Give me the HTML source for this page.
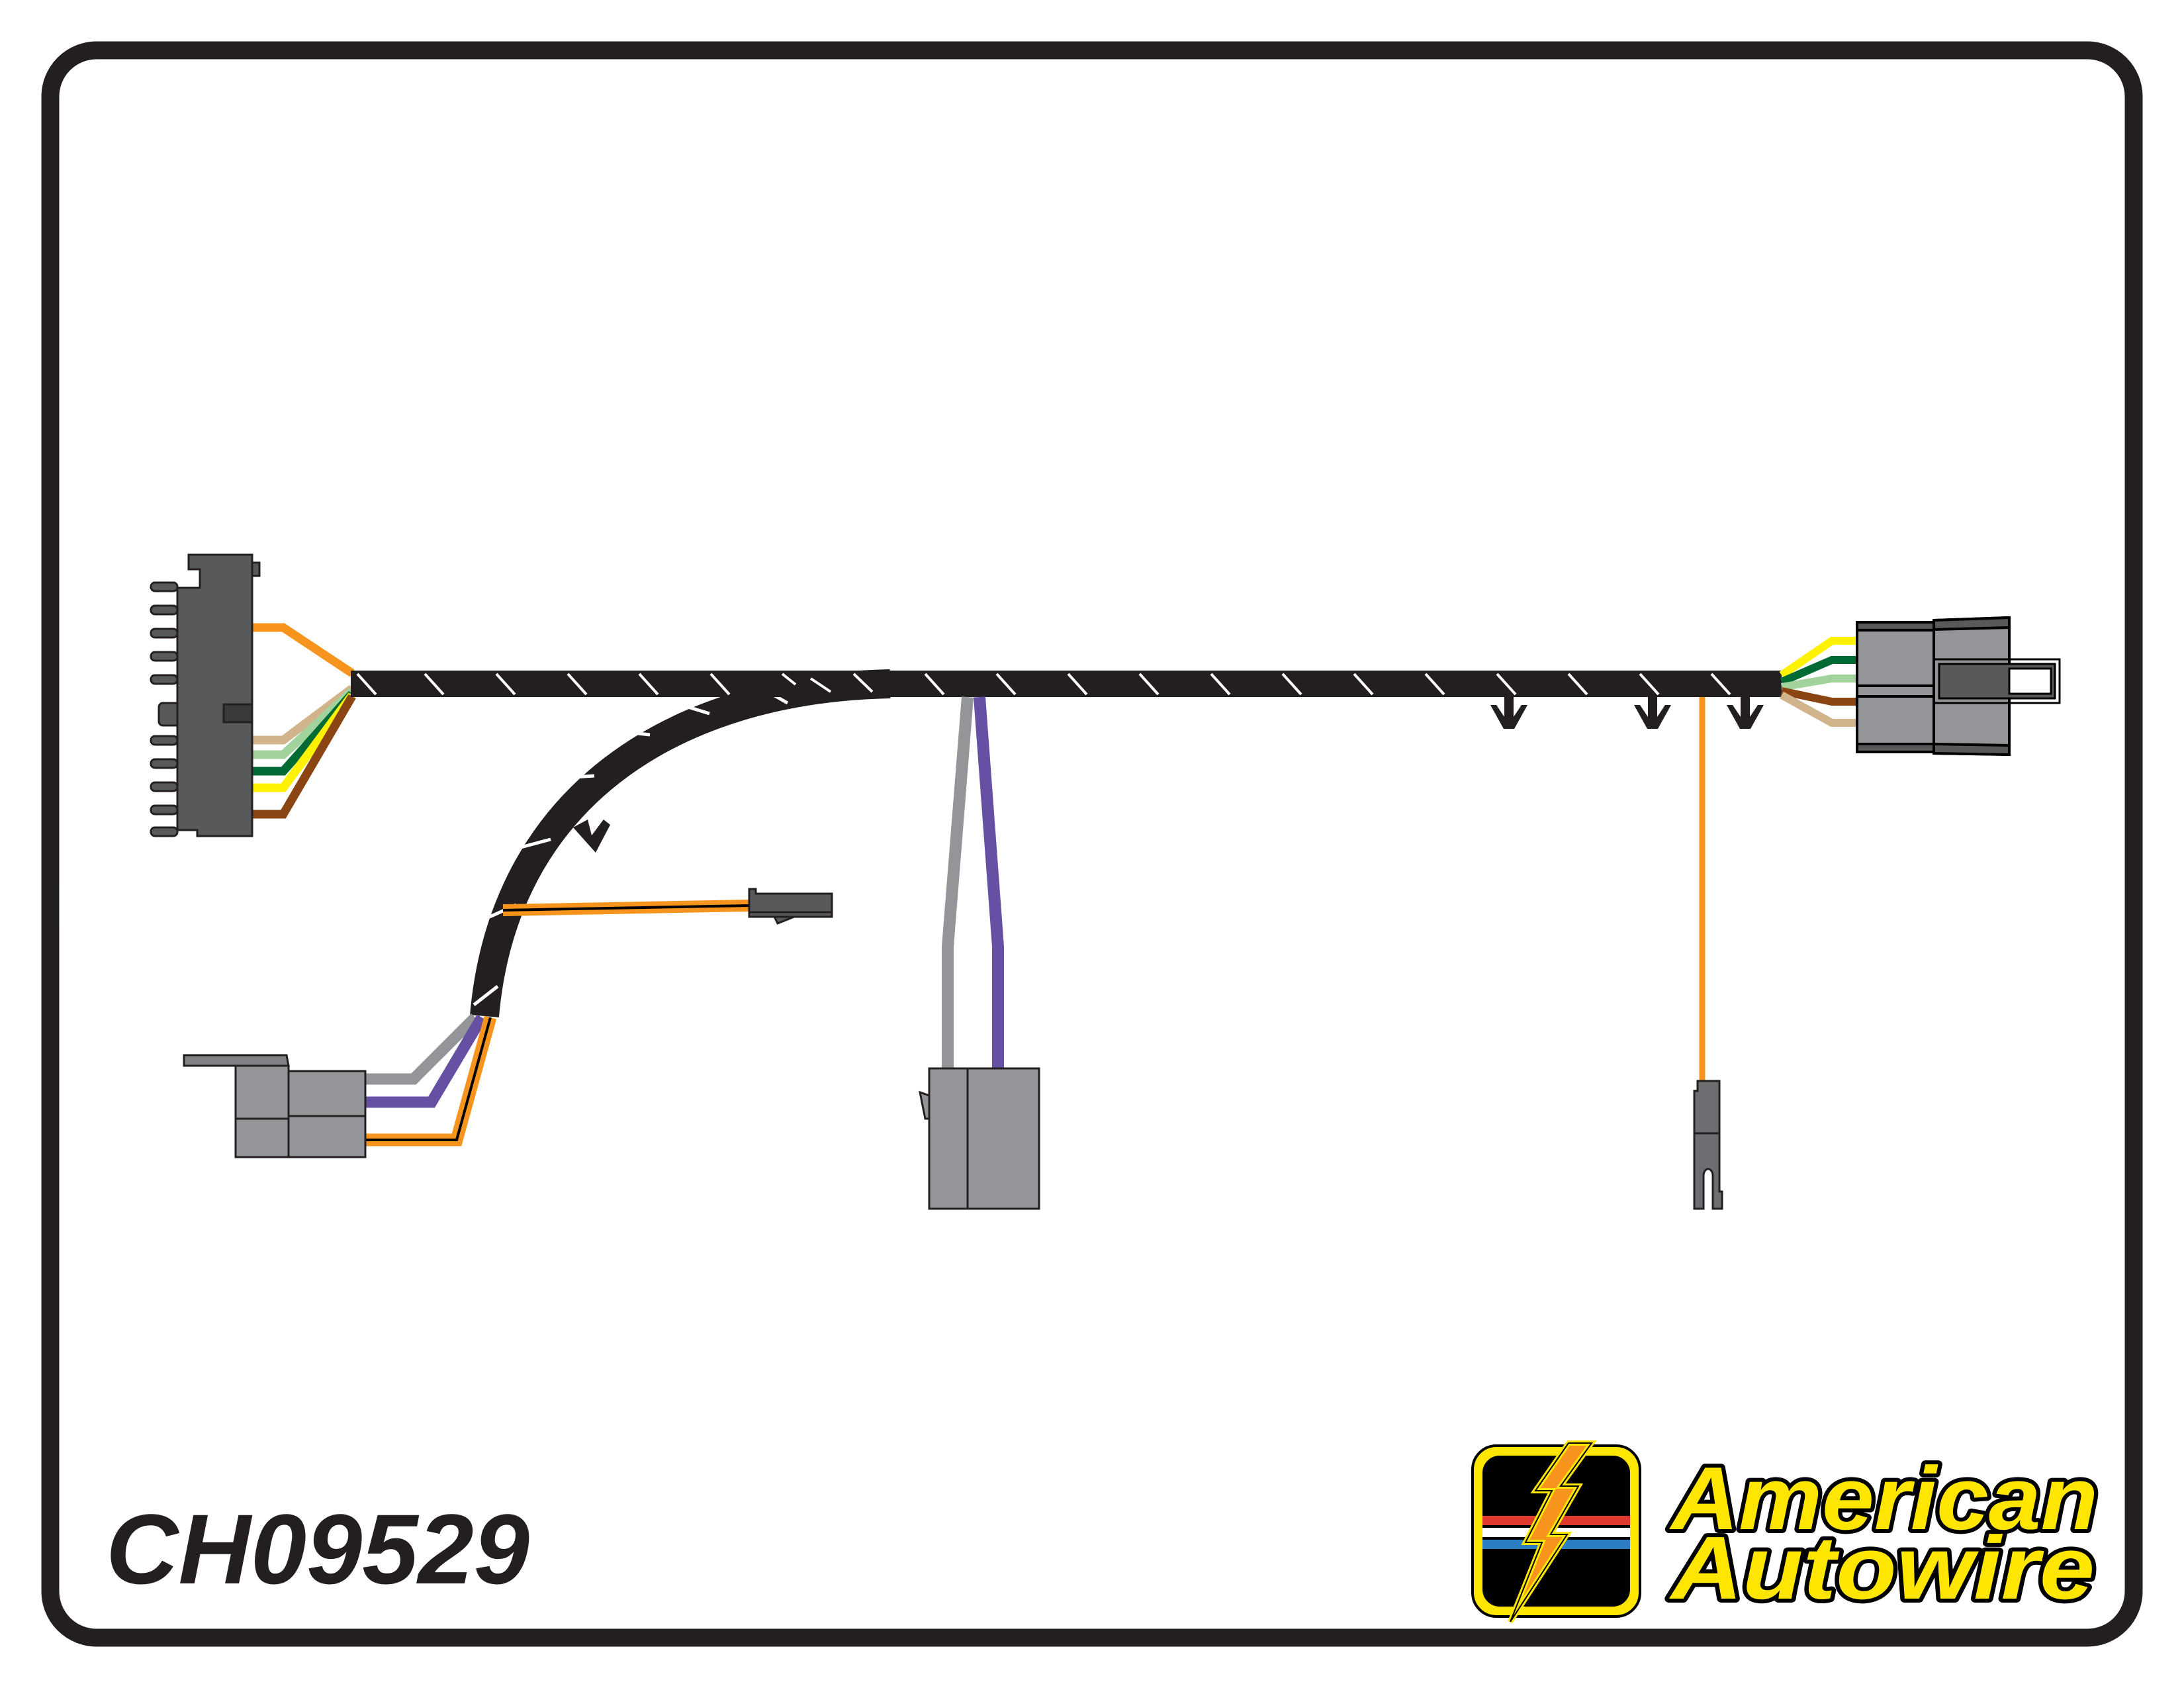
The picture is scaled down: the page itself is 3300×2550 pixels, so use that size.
<!DOCTYPE html>
<html><head><meta charset="utf-8"><style>
html,body{margin:0;padding:0;background:#fff}
svg{display:block}
</style></head><body>
<svg width="3300" height="2550" viewBox="0 0 3300 2550" xmlns="http://www.w3.org/2000/svg">
<rect x="76" y="76" width="3148" height="2398" rx="70" ry="70" fill="#fff" stroke="#231f20" stroke-width="27"/>

<!-- left connector wires -->
<g fill="none" stroke-width="13" stroke-linejoin="miter">
<polyline points="381,948 428,948 532,1017" stroke="#f7941d"/>
<polyline points="381,1118 428,1118 532,1040" stroke="#d2b48c"/>
<polyline points="381,1140 428,1140 532,1044" stroke="#a3d39c"/>
<polyline points="381,1165 428,1165 532,1048" stroke="#006b35"/>
<polyline points="381,1190 428,1190 532,1050" stroke="#fff200"/>
<polyline points="381,1230 428,1230 532,1052" stroke="#8b4513"/>
</g>

<!-- left connector -->
<g stroke="#231f20" stroke-width="3">
<g fill="#58595b">
<rect x="228" y="880" width="40" height="13" rx="6"/>
<rect x="228" y="915" width="40" height="13" rx="6"/>
<rect x="228" y="950" width="40" height="13" rx="6"/>
<rect x="228" y="985" width="40" height="13" rx="6"/>
<rect x="228" y="1020" width="40" height="13" rx="6"/>
<rect x="228" y="1112" width="40" height="13" rx="6"/>
<rect x="228" y="1147" width="40" height="13" rx="6"/>
<rect x="228" y="1182" width="40" height="13" rx="6"/>
<rect x="228" y="1217" width="40" height="13" rx="6"/>
<rect x="228" y="1250" width="40" height="13" rx="6"/>
<rect x="240" y="1062" width="86" height="34" rx="6"/>
</g>
<path d="M285,838 L381,838 L381,1263 L298,1263 L298,1254 L268,1254 L268,888 L302,888 L302,860 L285,860Z" fill="#58595b"/>
<rect x="381" y="850" width="11" height="20" fill="#58595b"/>
<rect x="338" y="1064" width="43" height="27" fill="#3a3a3c"/>
</g>

<!-- curved branch -->
<path d="M1345,1033 C1010,1040 760,1210 732,1535" fill="none" stroke="#231f20" stroke-width="44"/>
<g stroke="#fff" stroke-width="5">
<line x1="1160" y1="1045" x2="1190" y2="1062"/>
<line x1="1030" y1="1065" x2="1072" y2="1078"/>
<line x1="938" y1="1105" x2="982" y2="1110"/>
<line x1="852" y1="1175" x2="898" y2="1172"/>
<line x1="787" y1="1280" x2="832" y2="1268"/>
<line x1="740" y1="1385" x2="780" y2="1367"/>
<line x1="716" y1="1518" x2="752" y2="1490"/>
</g>
<!-- clip on curve -->
<path d="M866,1250 L888,1238 L894,1262 L912,1238 L922,1246 L900,1288Z" fill="#231f20"/>

<!-- main harness -->
<rect x="530" y="1013" width="2162" height="40" fill="#231f20"/>
<g stroke="#fff" stroke-width="4">
<line x1="540" y1="1018" x2="568" y2="1049"/>
<line x1="642" y1="1018" x2="670" y2="1049"/>
<line x1="750" y1="1018" x2="778" y2="1049"/>
<line x1="858" y1="1018" x2="886" y2="1049"/>
<line x1="966" y1="1018" x2="994" y2="1049"/>
<line x1="1074" y1="1018" x2="1102" y2="1049"/>
<line x1="1182" y1="1018" x2="1202" y2="1034"/>
<line x1="1225" y1="1025" x2="1255" y2="1045"/>
<line x1="1290" y1="1018" x2="1318" y2="1045"/>
<line x1="1398" y1="1018" x2="1426" y2="1049"/>
<line x1="1506" y1="1018" x2="1534" y2="1049"/>
<line x1="1614" y1="1018" x2="1642" y2="1049"/>
<line x1="1722" y1="1018" x2="1750" y2="1049"/>
<line x1="1830" y1="1018" x2="1858" y2="1049"/>
<line x1="1938" y1="1018" x2="1966" y2="1049"/>
<line x1="2046" y1="1018" x2="2074" y2="1049"/>
<line x1="2154" y1="1018" x2="2182" y2="1049"/>
<line x1="2262" y1="1018" x2="2290" y2="1049"/>
<line x1="2370" y1="1018" x2="2398" y2="1049"/>
<line x1="2478" y1="1018" x2="2506" y2="1049"/>
<line x1="2586" y1="1018" x2="2614" y2="1049"/>
</g>
<!-- clips -->
<g fill="#231f20">
<path id="clip" d="M2273,1053 h14 v30 l12,-18 h9 l-20,36 h-16 l-20,-36 h9 l12,18Z"/>
<use href="#clip" x="217"/>
<use href="#clip" x="357"/>
</g>

<!-- gray / purple drop -->
<polyline points="1462,1053 1432,1430 1432,1615" fill="none" stroke="#939598" stroke-width="18"/>
<polyline points="1480,1053 1508,1430 1508,1615" fill="none" stroke="#6650a4" stroke-width="18"/>
<g stroke="#231f20" stroke-width="3" fill="#939598">
<path d="M1404,1655 L1390,1650 L1398,1690 L1404,1690Z"/>
<rect x="1404" y="1614" width="166" height="212"/>
<line x1="1462" y1="1614" x2="1462" y2="1826"/>
</g>

<!-- orange thin drop -->
<line x1="2572" y1="1053" x2="2572" y2="1636" stroke="#f7941d" stroke-width="9"/>
<g stroke="#231f20" stroke-width="3" fill="#6d6e71">
<path d="M2565,1633 L2598,1633 L2598,1800 L2602,1800 L2602,1826 L2588,1826 L2588,1776 A7,10 0 0 0 2574,1776 L2574,1826 L2560,1826 L2560,1648 L2565,1648Z"/>
<line x1="2560" y1="1712" x2="2598" y2="1712"/>
</g>

<!-- right wires -->
<g fill="none" stroke-width="12">
<polyline points="2692,1020 2768,968 2806,968" stroke="#fff200"/>
<polyline points="2692,1030 2768,997 2806,997" stroke="#006b35"/>
<polyline points="2692,1038 2768,1025 2806,1025" stroke="#a3d39c"/>
<polyline points="2692,1044 2768,1060 2806,1060" stroke="#8b4513"/>
<polyline points="2692,1050 2768,1092 2806,1092" stroke="#d2b48c"/>
</g>
<!-- right connector -->
<g stroke="#000" stroke-width="4">
<rect x="2806" y="940" width="116" height="196" fill="#939598"/>
<rect x="2806" y="940" width="116" height="12" fill="#58595b"/>
<rect x="2806" y="1124" width="116" height="12" fill="#58595b"/>
<line x1="2806" y1="1036" x2="2922" y2="1036"/>
<line x1="2806" y1="1052" x2="2922" y2="1052"/>
<path d="M2922,937 L3036,933 L3036,1140 L2922,1138Z" fill="#939598"/>
<path d="M2922,937 L3036,933 L3036,948 L2922,951Z" fill="#58595b"/>
<path d="M2922,1124 L3036,1126 L3036,1140 L2922,1138Z" fill="#58595b"/>
<rect x="2922" y="996" width="190" height="66" fill="none" stroke-width="3"/>
<rect x="2930" y="1003" width="175" height="52" fill="#58595b" stroke-width="3"/>
<rect x="3036" y="1010" width="63" height="38" fill="#fff" stroke-width="3"/>
</g>

<!-- orange wire to small connector -->
<polyline points="760,1375 1132,1368" fill="none" stroke="#f7941d" stroke-width="18"/>
<polyline points="760,1375 1132,1368" fill="none" stroke="#000" stroke-width="4"/>
<g stroke="#231f20" stroke-width="3" fill="#58595b">
<path d="M1132,1343 L1142,1343 L1142,1350 L1257,1350 L1257,1385 L1132,1385Z"/>
<line x1="1132" y1="1378" x2="1257" y2="1378"/>
<path d="M1170,1385 L1175,1395 L1200,1385Z"/>
</g>

<!-- lower-left wires -->
<polyline points="718,1537 625,1630 552,1630" fill="none" stroke="#939598" stroke-width="17"/>
<polyline points="728,1537 652,1665 552,1665" fill="none" stroke="#6650a4" stroke-width="17"/>
<polyline points="741,1537 690,1722 552,1722" fill="none" stroke="#f7941d" stroke-width="19"/>
<polyline points="741,1537 690,1722 552,1722" fill="none" stroke="#000" stroke-width="4"/>
<!-- lower-left connector -->
<g stroke="#231f20" stroke-width="3" fill="#939598">
<path d="M278,1594 L433,1594 L436,1610 L278,1610Z" fill="#808285"/>
<rect x="356" y="1610" width="80" height="138"/>
<line x1="356" y1="1690" x2="436" y2="1690"/>
<rect x="436" y="1618" width="116" height="130"/>
<line x1="436" y1="1686" x2="552" y2="1686"/>
</g>

<!-- part number -->
<text x="160" y="2392" font-family="Liberation Sans, sans-serif" font-weight="bold" font-style="italic" font-size="150" fill="#231f20" textLength="640" lengthAdjust="spacingAndGlyphs">CH09529</text>

<!-- logo -->
<g>
<rect x="2225" y="2184" width="253" height="258" rx="36" fill="#ffe600" stroke="#000" stroke-width="4"/>
<rect x="2238" y="2197" width="227" height="232" rx="28" fill="#000" stroke="#ffe600" stroke-width="4"/>
<rect x="2240" y="2290" width="223" height="14" fill="#e03a2f"/>
<rect x="2240" y="2308" width="223" height="14" fill="#fff"/>
<rect x="2240" y="2326" width="223" height="14" fill="#2a7ec1"/>
<path d="M2370,2180 L2320,2252 L2345,2252 L2305,2330 L2330,2330 L2282,2450 L2368,2318 L2343,2318 L2385,2245 L2358,2245 L2405,2180Z" fill="#f7941d" stroke="#ffe600" stroke-width="8" stroke-linejoin="miter"/>
<path d="M2370,2180 L2320,2252 L2345,2252 L2305,2330 L2330,2330 L2282,2450 L2368,2318 L2343,2318 L2385,2245 L2358,2245 L2405,2180Z" fill="none" stroke="#000" stroke-width="2"/>
<g font-family="Liberation Sans, sans-serif" font-weight="bold" font-style="italic" font-size="135" fill="#ffe600" stroke="#000" stroke-width="12" paint-order="stroke" stroke-linejoin="round">
<text x="2525" y="2310" textLength="645" lengthAdjust="spacingAndGlyphs">American</text>
<text x="2525" y="2415" textLength="640" lengthAdjust="spacingAndGlyphs">Autowire</text>
</g>
</g>
</svg>
</body></html>
